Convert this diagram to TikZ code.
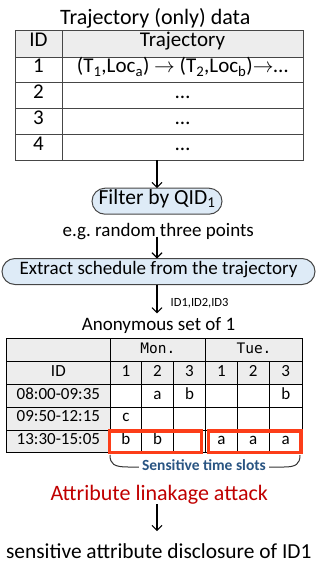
\documentclass[tikz,border=0pt]{standalone}
\usepackage{fontspec}
\setmainfont{Carlito}
\newfontfamily\daymono{DejaVu Sans Mono}
\usetikzlibrary{arrows.meta,calc}
\newcommand\setfs[1]{\fontsize{#1}{#1}\selectfont}
\definecolor{hdrgray}{RGB}{237,237,237}
\definecolor{boxblue}{RGB}{222,235,247}
\definecolor{slotred}{RGB}{252,61,24}
\definecolor{brblue}{RGB}{41,84,130}
\definecolor{attred}{RGB}{192,0,0}
\definecolor{gridgray}{RGB}{70,70,70}
\begin{document}
\begin{tikzpicture}[x=1pt,y=-1pt,
  every node/.style={inner sep=0pt, outer sep=0pt},
  capc/.style={text height=.64em, text depth=0pt},
  tgrid/.style={draw=gridgray, line width=1pt},
  bgrid/.style={draw=black, line width=0.9pt},
  procbox/.style={draw=gridgray, line width=1pt, fill=boxblue, capc},
  arr/.style={line width=1.1pt, -{Straight Barb[length=5pt,width=10pt]}},
  slotbox/.style={draw=slotred, line width=3.3pt},
  bracestyle/.style={draw=black!80, line width=1pt}]
\useasboundingbox (0,0) rectangle (321,563);
\coordinate (axis) at (157,0);

% title
\node[anchor=base, font=\setfs{22}] (title) at (155.3,24) {Trajectory (only) data};

% top table
\fill[hdrgray] (15,30.5) rectangle (303,57);
\node[tgrid, minimum width=288pt, minimum height=129.5pt] (ttab) at (159,95.25) {};
\foreach \yy in {57,82.5,108,134} \draw[tgrid] (15,\yy) -- (303,\yy);
\draw[tgrid] (62,30.5) -- (62,160);
\begin{scope}[every node/.append style={capc, font=\setfs{21}}]
\node (th1) at (38.5,43.75) {ID};
\node (th2) at (182.5,43.75) {Trajectory};
\node (tr1a) at (38.5,69.75) {1};
\node (tr1b) at (182.5,69.75) {(T\textsubscript{1},Loc\textsubscript{a}) $\rightarrow$ (T\textsubscript{2},Loc\textsubscript{b})$\rightarrow$\ldots};
\node (tr2a) at (38.5,95.25) {2};
\node (tr2b) at (182.5,95.25) {\ldots};
\node (tr3a) at (38.5,121) {3};
\node (tr3b) at (182.5,121) {\ldots};
\node (tr4a) at (38.5,147) {4};
\node (tr4b) at (182.5,147) {\ldots};
\end{scope}

% filter
\node[procbox, font=\setfs{21.5}, minimum width=130pt, minimum height=26pt, rounded corners=13pt] (fil) at (157,201.2) {Filter by QID\textsubscript{1}};
\draw[arr] (ttab.south -| axis) -- (fil.north -| axis);
\node[anchor=base, font=\setfs{19}] (eg) at (158.3,236.5) {e.g.\ random three points};

% extract
\node[procbox, font=\setfs{19}, minimum width=313pt, minimum height=26pt, rounded corners=13pt] (ext) at (158.5,271.5) {Extract schedule from the trajectory};
\draw[arr] (eg.base -| axis) -- (ext.north -| axis);

\node[anchor=base, font=\setfs{19}] (anon) at (158.5,330.5) {Anonymous set of 1};
\draw[arr, shorten >=4pt] (ext.south -| axis) -- (anon.north -| axis);
\node[anchor=west, font=\setfs{12.5}] (ids) at (170.7,303.5) {ID1,ID2,ID3};

% lower table
\fill[hdrgray] (6.7,338.7) rectangle (302.3,384.3);
\fill[hdrgray] (6.7,384.3) rectangle (110,452.7);
\node[bgrid, minimum width=295.6pt, minimum height=114pt] (btab) at (154.5,395.7) {};
\foreach \yy in {361.7,384.3,407.3,430} \draw[bgrid] (6.7,\yy) -- (302.3,\yy);
\foreach \xx in {110,205.7} \draw[bgrid] (\xx,338.7) -- (\xx,452.7);
\foreach \xx in {141.7,173.3,237.3,269.3} \draw[bgrid] (\xx,361.7) -- (\xx,452.7);
\begin{scope}[every node/.append style={capc, font=\setfs{17}}]
\node[font=\daymono\setfs{14.5}] (mon) at (157.85,350.2) {Mon.};
\node[font=\daymono\setfs{14.5}] (tue) at (254,350.2) {Tue.};
\node (hid) at (58.35,373) {ID};
\node (h1) at (125.85,373) {1};
\node (h2) at (157.5,373) {2};
\node (h3) at (189.5,373) {3};
\node (h4) at (221.5,373) {1};
\node (h5) at (253.3,373) {2};
\node (h6) at (285.8,373) {3};
\node (r1) at (58.35,395.8) {08:00-09:35};
\node (r1c2) at (157.5,395.8) {a};
\node (r1c3) at (189.5,395.8) {b};
\node (r1c6) at (285.8,395.8) {b};
\node (r2) at (58.35,418.65) {09:50-12:15};
\node (r2c1) at (125.85,418.65) {c};
\node (r3) at (58.35,441.35) {13:30-15:05};
\node (r3c1) at (125.85,441.35) {b};
\node (r3c2) at (157.5,441.35) {b};
\node (r3c4) at (221.5,441.35) {a};
\node (r3c5) at (253.3,441.35) {a};
\node (r3c6) at (285.8,441.35) {a};
\end{scope}

% sensitive slots
\node[slotbox, minimum width=92.1pt, minimum height=21.4pt] (rb1) at (155.75,441.7) {};
\node[slotbox, minimum width=92.3pt, minimum height=21.4pt] (rb2) at (254.85,441.7) {};
\draw[bracestyle] (110,455) .. controls (110,464) and (114,467) .. (128,467) -- (284,467) .. controls (296,467) and (300,464) .. (300,455);
\node[fill=white, inner xsep=3pt, inner ysep=2pt, font=\bfseries\setfs{15.5}, text=brblue, capc] (sens) at (204,467.5) {Sensitive time slots};

\node[anchor=base, font=\setfs{22}, text=attred] (att) at (159.2,500.5) {Attribute linakage attack};
\node[anchor=base east, font=\setfs{21.4}] (dis) at (311.5,558) {sensitive attribute disclosure of ID1};
\draw[arr, shorten >=12pt] (att.south -| axis) -- (dis.north -| axis);
\end{tikzpicture}
\end{document}
